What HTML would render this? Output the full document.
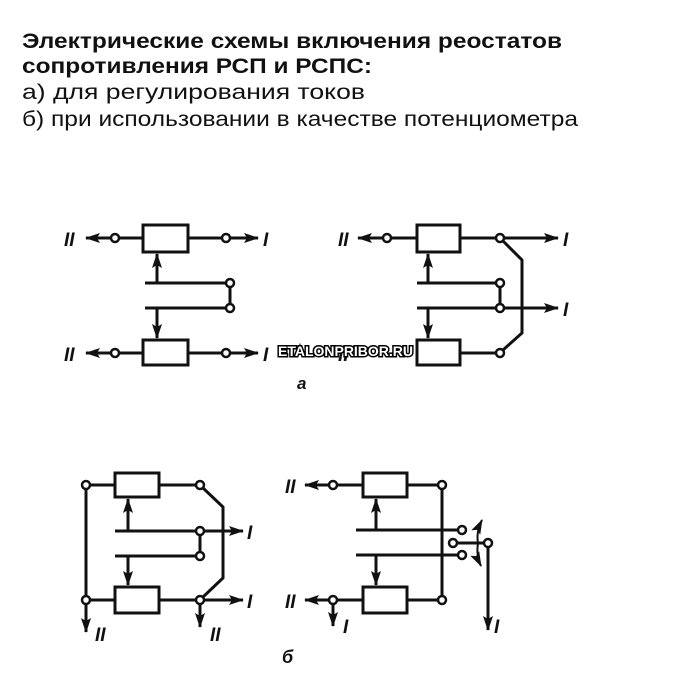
<!DOCTYPE html>
<html><head><meta charset="utf-8"><style>body{margin:0;background:#fff}svg{display:block}</style></head>
<body>
<svg width="700" height="700" viewBox="0 0 700 700" xmlns="http://www.w3.org/2000/svg">
<defs>
<marker id="a" markerUnits="userSpaceOnUse" markerWidth="16" markerHeight="12" refX="14" refY="6" orient="auto"><path d="M0,1 L15,6 L0,11 L3,6 Z" fill="#111"/></marker>
</defs>
<g font-family="Liberation Sans, sans-serif" fill="#111">
<text x="22" y="48" font-size="21" font-weight="bold" textLength="540" lengthAdjust="spacingAndGlyphs">Электрические схемы включения реостатов</text>
<text x="22" y="73" font-size="21" font-weight="bold" textLength="350" lengthAdjust="spacingAndGlyphs">сопротивления РСП и РСПС:</text>
<text x="22" y="99" font-size="21" textLength="343" lengthAdjust="spacingAndGlyphs">а) для регулирования токов</text>
<text x="22" y="126" font-size="21" textLength="556" lengthAdjust="spacingAndGlyphs">б) при использовании в качестве потенциометра</text>
</g>
<g stroke="#111" stroke-width="3" fill="none">
<!-- a left -->
<rect x="143" y="225" width="45" height="27"/>
<rect x="143" y="340" width="45" height="25"/>
<path d="M143,238 H119 M112,238 H86" marker-end="url(#a)"/>
<path d="M188,238 H222 M230,238 H258" marker-end="url(#a)"/>
<path d="M143,353 H119 M112,353 H86" marker-end="url(#a)"/>
<path d="M188,353 H222 M230,353 H258" marker-end="url(#a)"/>
<path d="M145,283 H226 M145,308 H226 M230,287 V304"/>
<path d="M157,283 V254" marker-end="url(#a)"/>
<path d="M157,308 V338" marker-end="url(#a)"/>
<!-- a right -->
<rect x="417" y="225" width="43" height="27"/>
<rect x="417" y="340" width="43" height="25"/>
<path d="M417,238 H391 M384,238 H358" marker-end="url(#a)"/>
<path d="M460,238 H496 M504,238 H558" marker-end="url(#a)"/>
<path d="M460,353 H496"/>
<path d="M503,241 L522,260 V333 L503,350"/>
<path d="M417,283 H496 M417,308 H496 M500,287 V304" />
<path d="M504,308 H558" marker-end="url(#a)"/>
<path d="M428,283 V254" marker-end="url(#a)"/>
<path d="M428,308 V338" marker-end="url(#a)"/>
<!-- b left -->
<rect x="115" y="473" width="44" height="24"/>
<rect x="115" y="587" width="44" height="26"/>
<path d="M90,485 H115 M159,485 H196 M90,600 H115 M159,600 H196"/>
<path d="M86,489 V596"/>
<path d="M86,604 V632" marker-end="url(#a)"/>
<path d="M203,488 L223,507 V578 L203,597"/>
<path d="M115,531 H196 M115,556 H196 M200,535 V552"/>
<path d="M204,531 H243" marker-end="url(#a)"/>
<path d="M204,600 H243" marker-end="url(#a)"/>
<path d="M200,604 V627" marker-end="url(#a)"/>
<path d="M128,531 V499" marker-end="url(#a)"/>
<path d="M128,556 V585" marker-end="url(#a)"/>
<!-- b right -->
<rect x="363" y="473" width="44" height="24"/>
<rect x="363" y="587" width="44" height="26"/>
<path d="M363,485 H337 M329,485 H305" marker-end="url(#a)"/>
<path d="M363,600 H337 M329,600 H305" marker-end="url(#a)"/>
<path d="M333,604 V626" marker-end="url(#a)"/>
<path d="M407,485 H438 M407,600 H438 M442,489 V596"/>
<path d="M356,530 H458 M356,555 H458 M457,543 H484"/>
<path d="M488,547 V630" marker-end="url(#a)"/>
<path d="M376,530 V499" marker-end="url(#a)"/>
<path d="M376,555 V585" marker-end="url(#a)"/>
<path d="M478,543 Q476,532 482,520" stroke-width="2" marker-end="url(#a)"/>
<path d="M478,543 Q476,556 481,566" stroke-width="2" marker-end="url(#a)"/>
</g>
<g stroke="#111" stroke-width="2.5" fill="#fff">
<circle cx="115" cy="238" r="4"/><circle cx="226" cy="238" r="4"/>
<circle cx="115" cy="353" r="4"/><circle cx="226" cy="353" r="4"/>
<circle cx="230" cy="283" r="4"/><circle cx="230" cy="308" r="4"/>
<circle cx="387" cy="238" r="4"/><circle cx="500" cy="238" r="4"/>
<circle cx="500" cy="283" r="4"/><circle cx="500" cy="308" r="4"/><circle cx="500" cy="353" r="4"/>
<circle cx="86" cy="485" r="4"/><circle cx="200" cy="485" r="4"/>
<circle cx="86" cy="600" r="4"/><circle cx="200" cy="600" r="4"/>
<circle cx="200" cy="531" r="4"/><circle cx="200" cy="556" r="4"/>
<circle cx="333" cy="485" r="4"/><circle cx="442" cy="485" r="4"/>
<circle cx="333" cy="600" r="4"/><circle cx="442" cy="600" r="4"/>
<circle cx="462" cy="530" r="4"/><circle cx="462" cy="555" r="4"/>
<circle cx="453" cy="543" r="4"/><circle cx="488" cy="543" r="4"/>
</g>
<g font-family="Liberation Sans, sans-serif" font-style="italic" font-weight="bold" font-size="19" fill="#111">
<text x="64" y="246">II</text><text x="263" y="246">I</text>
<text x="64" y="361">II</text><text x="263" y="361">I</text>
<text x="338" y="246">II</text><text x="563" y="246">I</text><text x="563" y="316">I</text>
<text x="338" y="361">II</text>
<text x="297" y="389" font-size="17">a</text>
<text x="247" y="539">I</text><text x="247" y="608">I</text>
<text x="95" y="641">II</text><text x="210" y="641">II</text>
<text x="285" y="493">II</text><text x="285" y="608">II</text>
<text x="343" y="633">I</text><text x="494" y="633">I</text>
<text x="282" y="663" font-size="18">б</text>
</g>
<text x="278" y="356" font-family="Liberation Sans, sans-serif" font-weight="bold" font-size="14" fill="#fff" stroke="#000" stroke-width="3" paint-order="stroke" textLength="135" lengthAdjust="spacingAndGlyphs">ETALONPRIBOR.RU</text>
</svg>
</body></html>
